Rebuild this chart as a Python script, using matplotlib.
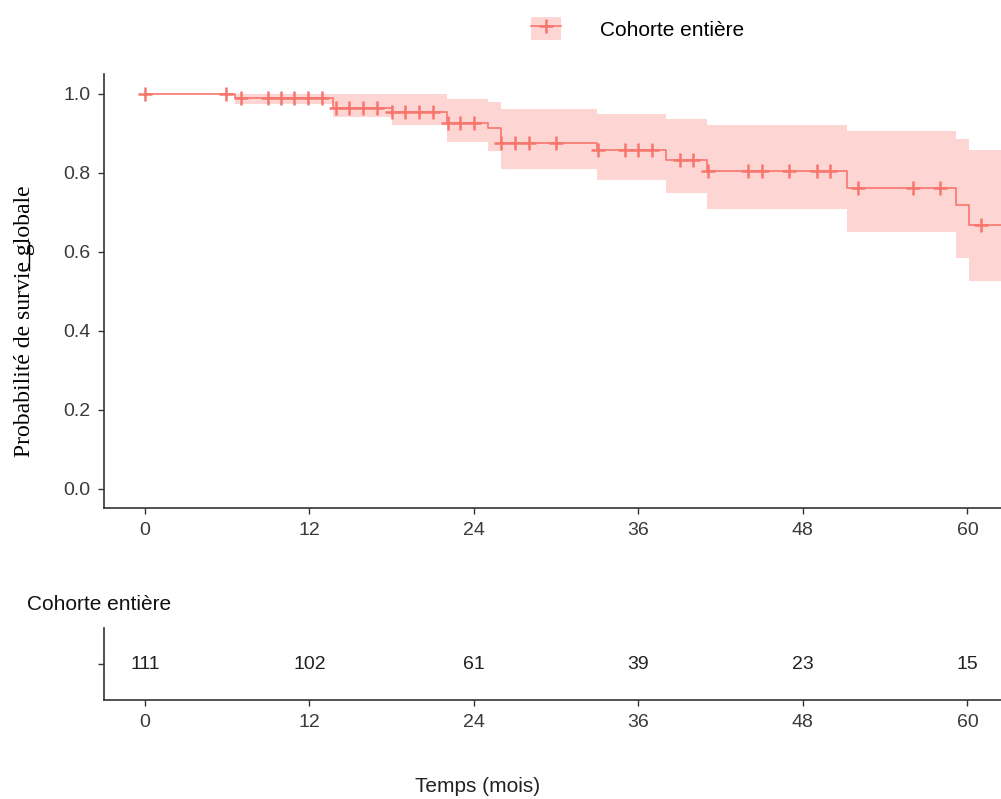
import numpy as np
import matplotlib
matplotlib.use('Agg')
import matplotlib.pyplot as plt
from matplotlib.patches import Patch
from matplotlib.lines import Line2D

# courbe de Kaplan-Meier
step_times = [0, 6.6, 13.7, 18.0, 22.0, 25.0, 26.0, 33.0, 38.0, 41.0, 51.2, 59.2, 60.1]
surv = [1.0, 0.990, 0.965, 0.954, 0.927, 0.912, 0.876, 0.857, 0.833, 0.804, 0.762, 0.719, 0.668]
upper = [1.0, 1.0, 1.0, 1.0, 0.986, 0.980, 0.961, 0.948, 0.935, 0.922, 0.905, 0.886, 0.858]
lower = [1.0, 0.973, 0.942, 0.920, 0.878, 0.854, 0.810, 0.782, 0.748, 0.708, 0.649, 0.585, 0.525]
last_time = 63.0

# temps des censures
censor_times = [0, 5.9, 7.0, 9.0, 9.9, 10.9, 11.9, 12.9, 13.9, 14.9, 15.9, 16.9,
                18.05, 19.0, 20.0, 21.0, 22.1, 23.0, 24.0, 26.0, 27.0, 28.0, 30.0,
                33.05, 35.0, 36.0, 37.0, 39.0, 40.0, 41.05, 44.0, 45.0, 47.0, 49.0,
                50.0, 52.0, 56.0, 58.0, 61.0]

# tableau des effectifs
risk_times = [0, 12, 24, 36, 48, 60]
n_risk = [111, 102, 61, 39, 23, 15]

label = 'Cohorte entière'
color = '#F8766D'
band_color = '#FDD6D3'
axis_color = '#333333'
text_color = '#3a3a3a'

plt.rcParams['font.family'] = ['Liberation Sans', 'DejaVu Sans']

fig = plt.figure(figsize=(10.01, 7.99), dpi=100)

xlim = (-2.97, 62.45)

# ---- courbe de survie
ax = fig.add_axes([0.1042, 0.3638, 0.8958, 0.5436])
t = np.array(step_times + [last_time])
s = np.array(surv + [surv[-1]])
up = np.array(upper + [upper[-1]])
lo = np.array(lower + [lower[-1]])
ax.fill_between(t, lo, up, step='post', color=band_color, lw=0)
ax.step(t, s, where='post', color=color, lw=1.2)
idx = np.searchsorted(step_times, censor_times, side='right') - 1
cy = np.array(surv)[idx]
ax.plot(censor_times, cy, ls='none', marker='+', ms=10, mew=1.8, color=color)

ax.set_xlim(*xlim)
ax.set_ylim(-0.05, 1.05)
ax.set_xticks(risk_times)
ax.set_yticks([0, 0.2, 0.4, 0.6, 0.8, 1.0])
ax.set_yticklabels(['0.0', '0.2', '0.4', '0.6', '0.8', '1.0'])
for sp in ['top', 'right']:
    ax.spines[sp].set_visible(False)
for sp in ['left', 'bottom']:
    ax.spines[sp].set_color(axis_color)
    ax.spines[sp].set_linewidth(1.2)
ax.tick_params(length=4, width=1, color=axis_color, labelsize=14,
               labelcolor=text_color, pad=6)

fig.text(0.024, 0.598, 'Probabilité de survie globale', rotation=90,
         ha='center', va='center', fontsize=17, family='Liberation Serif')
fig.add_artist(Line2D([29.3 / 1001, 29.3 / 1001], [1 - 270 / 799, 1 - 242 / 799],
                      color='black', lw=1))

# ---- légende
handle = (Patch(facecolor=band_color, edgecolor='none'),
          Line2D([], [], color=color, lw=1.2, marker='+', ms=10, mew=1.8))
fig.legend([handle], [label], loc='center left', bbox_to_anchor=(0.512, 0.964),
           frameon=False, fontsize=15, handlelength=1.45, handleheight=1.35,
           handletextpad=1.85)

# ---- tableau des effectifs
axr = fig.add_axes([0.1042, 0.1239, 0.8958, 0.0901])
for x, n in zip(risk_times, n_risk):
    axr.text(x, 0, str(n), ha='center', va='center', fontsize=14, color='#222222')
axr.set_xlim(*xlim)
axr.set_ylim(-0.5, 0.5)
axr.set_xticks(risk_times)
axr.set_yticks([0])
axr.set_yticklabels([''])
for sp in ['top', 'right']:
    axr.spines[sp].set_visible(False)
for sp in ['left', 'bottom']:
    axr.spines[sp].set_color(axis_color)
    axr.spines[sp].set_linewidth(1.2)
axr.tick_params(length=4, width=1, color=axis_color, labelsize=14,
                labelcolor=text_color, pad=6)

fig.text(27 / 1001, 1 - 605 / 799, label, ha='left', va='center', fontsize=15,
         color='#111111')
fig.text(478 / 1001, 1 - 786 / 799, 'Temps (mois)', ha='center', va='center',
         fontsize=15, color='#222222')

fig.savefig('out.png', dpi=100)
